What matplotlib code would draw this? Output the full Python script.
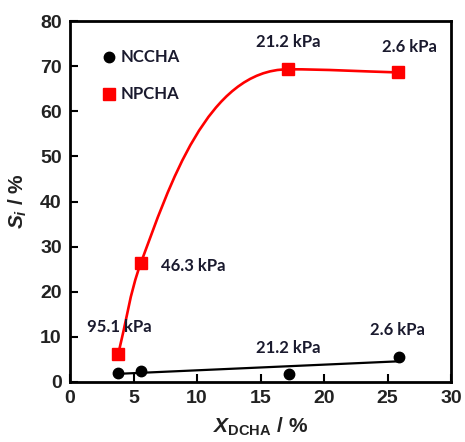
import numpy as np
import matplotlib
matplotlib.use("Agg")
import matplotlib.pyplot as plt
from matplotlib.path import Path
from matplotlib.patches import PathPatch

# ---- data ----
x_ncc = [3.8, 5.57, 17.24, 25.9]
y_ncc = [2.06, 2.5, 1.77, 5.6]
x_npc = [3.8, 5.57, 17.2, 25.85]
y_npc = [6.2, 26.3, 69.3, 68.6]
lbl_ncc = ["", "", "21.2 kPa", "2.6 kPa"]
lbl_npc = ["95.1 kPa", "46.3 kPa", "21.2 kPa", "2.6 kPa"]
xticks = [0, 5, 10, 15, 20, 25, 30]
yticks = [0, 10, 20, 30, 40, 50, 60, 70, 80]

plt.rcParams['mathtext.fontset'] = 'custom'
plt.rcParams['mathtext.it'] = 'Liberation Sans:italic:bold'
plt.rcParams['mathtext.rm'] = 'Liberation Sans:bold'
plt.rcParams['mathtext.bf'] = 'Liberation Sans:bold'

fig = plt.figure(figsize=(4.65, 4.42), dpi=100)
ax = fig.add_axes([70/465, 60/442, 381/465, 361/442])
ax.set_xlim(0, 30)
ax.set_ylim(0, 80)

# smooth red curve (chordal Catmull-Rom style Bezier in display space,
# flat tangent at local extrema)
def smooth_path(xs, ys):
    pts = ax.transData.transform(np.column_stack([xs, ys]))
    n = len(pts)
    d = [np.linalg.norm(pts[i+1] - pts[i]) for i in range(n - 1)]
    tang = []
    for i in range(n):
        if i == 0:
            v = (pts[1] - pts[0]) / d[0]
        elif i == n - 1:
            v = (pts[-1] - pts[-2]) / d[-1]
        else:
            v1 = (pts[i] - pts[i-1]) / d[i-1]
            v2 = (pts[i+1] - pts[i]) / d[i]
            if (ys[i] - ys[i-1]) * (ys[i+1] - ys[i]) < 0:
                v = np.array([1.0, 0.0])
            else:
                w1 = d[i] / (d[i-1] + d[i])
                w2 = d[i-1] / (d[i-1] + d[i])
                v = w1 * v1 + w2 * v2
                v = v / np.linalg.norm(v)
        tang.append(v)
    verts = [pts[0]]
    codes = [Path.MOVETO]
    for i in range(n - 1):
        c1 = pts[i] + tang[i] * d[i] / 3
        c2 = pts[i+1] - tang[i+1] * d[i] / 3
        verts += [c1, c2, pts[i+1]]
        codes += [Path.CURVE4] * 3
    verts = ax.transData.inverted().transform(np.array(verts))
    return Path(verts, codes)

ax.add_patch(PathPatch(smooth_path(x_npc, y_npc), facecolor='none',
                       edgecolor='#ff0000', lw=1.9, zorder=2))
ax.plot(x_npc, y_npc, 's', color='#ff0000', ms=8, zorder=3)

coef = np.polyfit(x_ncc, y_ncc, 1)
xf = np.array([x_ncc[0], x_ncc[-1]])
ax.plot(xf, np.polyval(coef, xf), '-', color='black', lw=1.6, zorder=2)
ax.plot(x_ncc, y_ncc, 'o', color='black', ms=7.5, zorder=3)

tfont = dict(family='Lato', fontweight='bold', fontsize=12, color='#1a1a2e')
ann_pos_npc = [(3.87, 12.2, 'center'), (7.17, 25.7, 'left'),
               (17.17, 75.4, 'center'), (26.7, 74.2, 'center')]
for (ax_x, ax_y, ha), t in zip(ann_pos_npc, lbl_npc):
    ax.text(ax_x, ax_y, t, ha=ha, va='center', **tfont)
ann_pos_ncc = [None, None, (17.17, 7.5), (25.75, 11.5)]
for p, t in zip(ann_pos_ncc, lbl_ncc):
    if p and t:
        ax.text(p[0], p[1], t, ha='center', va='center', **tfont)

# legend (manual)
ax.plot([3.08], [72.1], 'o', color='black', ms=7.5, clip_on=False)
ax.text(4.0, 72.1, 'NCCHA', ha='left', va='center', **tfont)
ax.plot([3.05], [63.8], 's', color='#ff0000', ms=8, clip_on=False)
ax.text(4.0, 63.8, 'NPCHA', ha='left', va='center', **tfont)

ax.set_xticks(xticks)
ax.set_yticks(yticks)
ax.tick_params(direction='in', length=6, width=1.5, top=False, right=False,
               labelsize=14, pad=6)
for lab in ax.get_xticklabels() + ax.get_yticklabels():
    lab.set_fontfamily('Liberation Sans')
    lab.set_fontweight('bold')
    lab.set_color('#222222')
for s in ax.spines.values():
    s.set_linewidth(2)

ax.set_xlabel(r'$X_{\mathrm{DCHA}}$ / %', fontsize=15, fontfamily='Liberation Sans',
              fontweight='bold', color='#222222', labelpad=6)
ax.set_ylabel(r'$S_i$ / %', fontsize=15, fontfamily='Liberation Sans',
              fontweight='bold', color='#222222', labelpad=8)

fig.savefig('out.png', dpi=100)
